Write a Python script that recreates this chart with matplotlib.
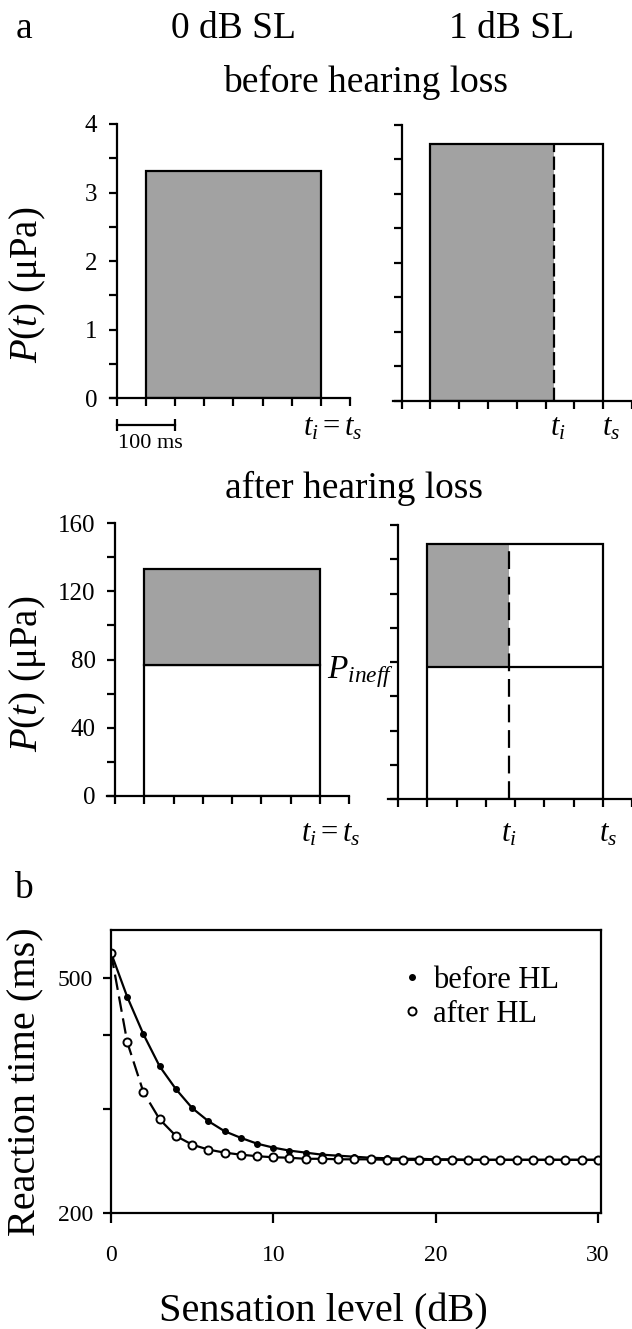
import matplotlib
matplotlib.use('Agg')
import matplotlib.pyplot as plt
from matplotlib.lines import Line2D

plt.rcParams['font.family'] = ['Liberation Serif', 'DejaVu Serif']
plt.rcParams['mathtext.fontset'] = 'custom'
plt.rcParams['mathtext.rm'] = 'Liberation Serif'
plt.rcParams['mathtext.it'] = 'Liberation Serif:italic'
plt.rcParams['mathtext.bf'] = 'Liberation Serif:bold'

# ---------------- data ----------------
time_ticks_ms = [0, 50, 100, 150, 200, 250, 300, 350, 400]
stim_onset_ms = 50
stim_offset_ms = 350          # t_s
scale_bar_ms = 100

before_yticks = [0, 0.5, 1, 1.5, 2, 2.5, 3, 3.5, 4]
before_ylabels = ['0', '', '1', '', '2', '', '3', '', '4']
before_0dB_level = 3.31
before_1dB_level = 3.73
before_1dB_ti = 265

after_yticks = [0, 20, 40, 60, 80, 100, 120, 140, 160]
after_ylabels = ['0', '', '40', '', '80', '', '120', '', '160']
after_0dB_level = 133
after_1dB_level = 149
p_ineff = 77
after_1dB_ti = 190

sensation_level = [0, 1, 2, 3, 4, 5, 6, 7, 8, 9, 10, 11, 12, 13, 14, 15,
                   16, 17, 18, 19, 20, 21, 22, 23, 24, 25, 26, 27, 28, 29, 30]
rt_before = [551, 464, 401, 354, 324, 301, 286, 275, 268, 262, 258, 255, 253,
             251, 250, 249, 248, 247.5, 247, 247, 246.5, 246.5, 246, 246, 246,
             246, 246, 246, 246, 246, 246]
rt_after = [551, 389, 320, 288, 270, 261, 256, 253, 251, 249.5, 248.5, 248,
            247, 247, 246.5, 246.5, 246.5, 246, 246, 246, 246, 246, 246, 246,
            246, 246, 246, 246, 246, 246, 246]
rt_yticks = [200, 300, 400, 500]
rt_ylabels = ['200', '', '', '500']
sl_xticks = [0, 10, 20, 30]

GRAY = '#a2a2a2'
LW = 1.6

W, H = 632, 1329
fig = plt.figure(figsize=(W / 100, H / 100), dpi=100)


def add_ax(x0, x1, y0, y1):
    return fig.add_axes([x0 / W, 1 - y1 / H, (x1 - x0) / W, (y1 - y0) / H])


def ftext(x, y, s, **kw):
    fig.text(x / W, 1 - y / H, s, **kw)


def style_a(ax, xlim, ylim, yticks, ylabels):
    ax.set_xlim(*xlim)
    ax.set_ylim(*ylim)
    ax.patch.set_visible(False)
    for s in ['top', 'right']:
        ax.spines[s].set_visible(False)
    ax.spines['left'].set_position(('data', 0))
    ax.spines['bottom'].set_position(('data', 0))
    for s in ['left', 'bottom']:
        ax.spines[s].set_linewidth(LW)
    ax.set_xticks(time_ticks_ms)
    ax.set_xticklabels([])
    ax.set_yticks(yticks)
    ax.set_yticklabels(ylabels)
    ax.tick_params(direction='out', length=6, width=LW, labelsize=18, pad=8)


# ---- top-left: 0 dB SL before hearing loss
ax1 = add_ax(110, 350, 124, 398.3)
style_a(ax1, (-11.5, 400), (0, 4), before_yticks, before_ylabels)
ax1.bar(stim_onset_ms, before_0dB_level, width=stim_offset_ms - stim_onset_ms,
        align='edge', facecolor=GRAY, edgecolor='black', linewidth=LW)
# scale bar
sb_y = -0.39
ax1.plot([0, scale_bar_ms], [sb_y, sb_y], color='black', lw=LW, clip_on=False)
ax1.plot([0, scale_bar_ms], [sb_y, sb_y], color='black', lw=0, marker='|',
         markersize=9, markeredgewidth=LW, clip_on=False)

# ---- top-right: 1 dB SL before hearing loss
ax2 = add_ax(393, 632, 125, 400.7)
style_a(ax2, (-15, 393), (0, 4), before_yticks, [''] * len(before_yticks))
ax2.bar(stim_onset_ms, before_1dB_level, width=before_1dB_ti - stim_onset_ms,
        align='edge', facecolor=GRAY, edgecolor='none')
ax2.bar(stim_onset_ms, before_1dB_level, width=stim_offset_ms - stim_onset_ms,
        align='edge', facecolor='none', edgecolor='black', linewidth=LW)
ax2.vlines(before_1dB_ti, 0, before_1dB_level, colors='black', lw=LW,
           linestyles=(0, (6, 2)))

# ---- bottom-left: 0 dB SL after hearing loss
ax3 = add_ax(107, 349, 523.3, 795.7)
style_a(ax3, (-13.7, 399), (0, 160), after_yticks, after_ylabels)
ax3.bar(stim_onset_ms, p_ineff, width=stim_offset_ms - stim_onset_ms,
        align='edge', facecolor='white', edgecolor='black', linewidth=LW)
ax3.bar(stim_onset_ms, after_0dB_level - p_ineff, bottom=p_ineff,
        width=stim_offset_ms - stim_onset_ms, align='edge',
        facecolor=GRAY, edgecolor='black', linewidth=LW)

# ---- bottom-right: 1 dB SL after hearing loss
ax4 = add_ax(388.3, 632, 525, 799)
style_a(ax4, (-17, 399), (0, 160), after_yticks, [''] * len(after_yticks))
ax4.bar(stim_onset_ms, after_1dB_level - p_ineff, bottom=p_ineff,
        width=after_1dB_ti - stim_onset_ms, align='edge',
        facecolor=GRAY, edgecolor='none')
ax4.bar(stim_onset_ms, after_1dB_level, width=stim_offset_ms - stim_onset_ms,
        align='edge', facecolor='none', edgecolor='black', linewidth=LW)
ax4.hlines(p_ineff, stim_onset_ms, stim_offset_ms, colors='black', lw=LW)
ax4.vlines(after_1dB_ti, 0, after_1dB_level, colors='black', lw=LW,
           linestyles=(0, (8, 3.5)))

# ---- panel a texts
ftext(16, 38, 'a', fontsize=27, va='baseline', ha='left')
ftext(234, 38, '0 dB SL', fontsize=27, va='baseline', ha='center')
ftext(512, 38, '1 dB SL', fontsize=27, va='baseline', ha='center')
ftext(366, 91.7, 'before hearing loss', fontsize=27, va='baseline', ha='center')
ftext(354, 498, 'after hearing loss', fontsize=27, va='baseline', ha='center')
ftext(28, 285, r'$\mathit{P(t)}$ (μPa)', fontsize=28, rotation=90,
      ha='center', va='center')
ftext(27, 673.5, r'$\mathit{P(t)}$ (μPa)', fontsize=28, rotation=90,
      ha='center', va='center')
ftext(118, 448, '100 ms', fontsize=16, ha='left', va='baseline')
ftext(333, 435, r'$t_i = t_s$', fontsize=22, ha='center', va='baseline')
ftext(558, 435, r'$t_i$', fontsize=22, ha='center', va='baseline')
ftext(611, 435, r'$t_s$', fontsize=22, ha='center', va='baseline')
ftext(330.5, 842, r'$t_i = t_s$', fontsize=22, ha='center', va='baseline')
ftext(509, 842, r'$t_i$', fontsize=22, ha='center', va='baseline')
ftext(608, 842, r'$t_s$', fontsize=22, ha='center', va='baseline')
ftext(327, 678, r'$P_{ineff}$', fontsize=24, ha='left', va='baseline')

# ---- panel b
axb = add_ax(111, 601, 930, 1213)
axb.set_yscale('log')
axb.set_xlim(0, 30.2)
axb.set_ylim(200, 602)
for s in axb.spines.values():
    s.set_linewidth(LW)
axb.plot(sensation_level[:4], rt_after[:4], color='black', lw=LW,
         linestyle=(0, (7, 3)))
axb.plot(sensation_level[3:], rt_after[3:], color='black', lw=LW)
axb.plot(sensation_level, rt_before, color='black', lw=LW)
axb.plot(sensation_level, rt_before, linestyle='none', marker='o',
         markersize=4, color='black')
axb.plot(sensation_level, rt_after, linestyle='none', marker='o',
         markersize=5.8, markerfacecolor='white', markeredgecolor='black',
         markeredgewidth=1.4)
axb.set_yticks(rt_yticks)
axb.set_yticklabels(rt_ylabels)
axb.yaxis.set_minor_locator(matplotlib.ticker.NullLocator())
axb.set_xticks(sl_xticks)
axb.set_xticklabels([str(v) for v in sl_xticks])
axb.tick_params(axis='y', direction='out', length=6, width=LW, labelsize=17, pad=7)
axb.tick_params(axis='x', direction='out', length=7, width=LW, labelsize=17, pad=16)

handles = [Line2D([], [], linestyle='none', marker='o', markersize=4,
                  color='black'),
           Line2D([], [], linestyle='none', marker='o', markersize=5.8,
                  markerfacecolor='white', markeredgecolor='black',
                  markeredgewidth=1.4)]
axb.legend(handles, ['before HL', 'after HL'], loc='upper left',
           bbox_to_anchor=(404 / W, 1 - 966 / H),
           bbox_transform=fig.transFigure, frameon=False, fontsize=22,
           handlelength=0.5, handletextpad=0.45, labelspacing=0.15,
           borderpad=0, borderaxespad=0)

ftext(14, 898, 'b', fontsize=27, va='baseline', ha='left')
ftext(26, 1082, 'Reaction time (ms)', fontsize=29, rotation=90,
      ha='center', va='center')
ftext(323, 1321, 'Sensation level (dB)', fontsize=29, ha='center',
      va='baseline')

fig.savefig('out.png', dpi=100)
